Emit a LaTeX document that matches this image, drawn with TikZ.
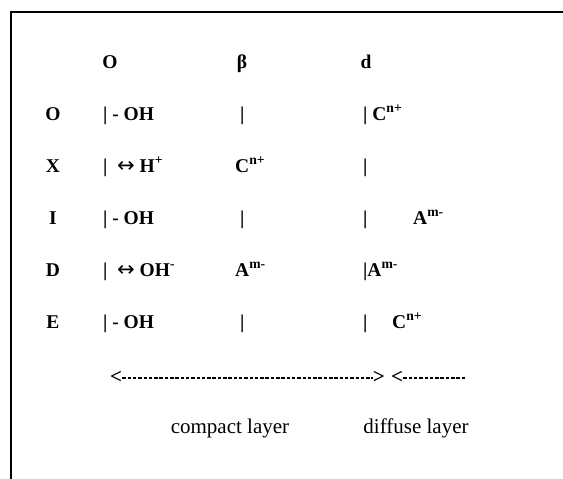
\documentclass[tikz,border=0pt]{standalone}
\usepackage{fontspec}
\setmainfont{Liberation Serif}
\newfontfamily\arrfont{DejaVu Sans}
\newcommand{\lrarr}{{\arrfont\mdseries\fontsize{21}{22}\selectfont ↔}}
\begin{document}
\begin{tikzpicture}[x=1pt,y=-1pt,
  txt/.style={anchor=base west,inner sep=0pt,font=\fontsize{19.5}{22}\selectfont\bfseries},
  ctr/.style={anchor=base,inner sep=0pt,font=\fontsize{19.5}{22}\selectfont\bfseries},
  lbl/.style={anchor=base,inner sep=0pt,font=\fontsize{21}{24}\selectfont},
  angle/.style={inner sep=0pt,font=\fontsize{21}{22}\selectfont\bfseries},
  frameline/.style={line width=2pt},
  dashline/.style={line width=1.7pt,dash pattern=on 3.5pt off 1.8pt}]
\useasboundingbox (0,0) rectangle (563,479);
% frame
\coordinate (tl) at (11,12);
\coordinate (tr) at (563,12);
\coordinate (bl) at (11,479);
\draw[frameline] (tr) -- (tl) -- (bl);
% header
\node[ctr] (hO) at (110,68.5) {O};
\node[ctr] (hB) at (242,68.5) {β};
\node[ctr] (hD) at (366,68.5) {d};
% row labels
\node[ctr] (rO) at (53,120.5) {O};
\node[ctr] (rX) at (53,172.5) {X};
\node[ctr] (rI) at (53,224.5) {I};
\node[ctr] (rD) at (53,276.5) {D};
\node[ctr] (rE) at (53,328.5) {E};
% row O
\node[txt] (o1) at (103,120.5) {| - OH};
\node[txt] (o2) at (240,120.5) {|};
\node[txt] (o3) at (363,120.5) {| C\textsuperscript{n+}};
% row X
\node[txt] (x1) at (103,172.5) {|\ \ \lrarr\ H\textsuperscript{+}};
\node[txt] (x2) at (235,172.5) {C\textsuperscript{n+}};
\node[txt] (x3) at (363,172.5) {|};
% row I
\node[txt] (i1) at (103,224.5) {| - OH};
\node[txt] (i2) at (240,224.5) {|};
\node[txt] (i3) at (363,224.5) {|};
\node[txt] (i4) at (413,224.5) {A\textsuperscript{m-}};
% row D
\node[txt] (d1) at (103,276.5) {|\ \ \lrarr\ OH\textsuperscript{-}};
\node[txt] (d2) at (235,276.5) {A\textsuperscript{m-}};
\node[txt] (d3) at (363,276.5) {|A\textsuperscript{m-}};
% row E
\node[txt] (e1) at (103,328.5) {| - OH};
\node[txt] (e2) at (240,328.5) {|};
\node[txt] (e3) at (363,328.5) {|};
\node[txt] (e4) at (392,328.5) {C\textsuperscript{n+}};
% arrows
\node[angle,anchor=west] (al) at (110,377) {<};
\node[angle,anchor=east] (ar) at (385,377) {>};
\node[angle,anchor=west] (bl2) at (391,377) {<};
\coordinate (bend) at (465,378);
\path (al.east) ++(0,1) coordinate (a1) (ar.west) ++(0,1) coordinate (a2);
\draw[dashline] (a1) -- (a2);
\path (bl2.east) ++(0,1) coordinate (b1);
\draw[dashline] (b1) -- (bend);
% labels
\node[lbl] (cl) at (230,433) {compact layer};
\node[lbl] (dl) at (416,433) {diffuse layer};
\end{tikzpicture}
\end{document}
